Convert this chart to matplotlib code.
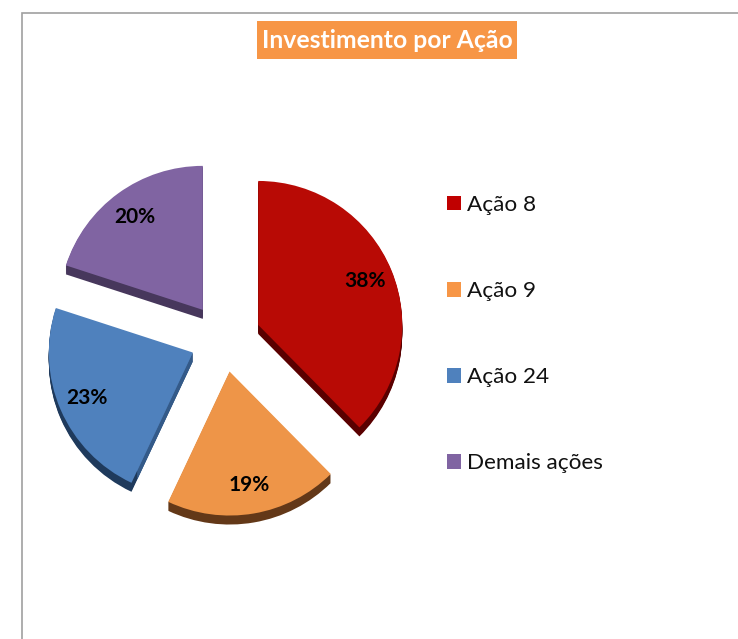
import matplotlib
matplotlib.use("Agg")
import matplotlib.pyplot as plt
from matplotlib.patches import Rectangle

plt.rcParams['font.family'] = ['Lato', 'DejaVu Sans']

labels = ['Ação 8', 'Ação 9', 'Ação 24', 'Demais ações']
values = [37.6, 19.4, 23, 20]
top_colors = ['#B80A05', '#EE9548', '#4F81BD', '#8064A2']
side_colors = ['#5A0000', '#633818', '#1F3A5C', '#47375C']
edge_colors = ['none', 'none', '#3F6A9E', 'none']  # blue slice has a lighter cut face
legend_colors = ['#C00000', '#F79646', '#4F81BD', '#8064A2']

W, H = 738, 639
fig = plt.figure(figsize=(W / 100, H / 100), dpi=100)
ax = fig.add_axes([0, 0, 1, 1])

# everything below is placed in image pixels, y measured from the bottom
cx, cy = 224, H - 339
r = 144
depth = 9
explode = [37, 33, 34, 36]  # pie takes this in data units, so pixels here

# outer frame, only top and left show in the picture
ax.add_patch(Rectangle((22, -20), 800, H - 12.5 + 20, fill=False, edgecolor='#A0A0A0', linewidth=1.2))

# fake 3d: stack of dark pies under the top one
for d in range(depth, 0, -1):
    ax.pie(values, explode=explode, colors=side_colors, radius=r, center=(cx, cy - d),
           startangle=90, counterclock=False)
    ax.pie(values, explode=explode, colors=edge_colors, radius=r - 14, center=(cx, cy - d),
           startangle=90, counterclock=False)

wedges, texts, autotexts = ax.pie(values, explode=explode, colors=top_colors, radius=r, center=(cx, cy),
                                  startangle=90, counterclock=False, autopct='%.0f%%', pctdistance=0.8,
                                  textprops={'fontsize': 15, 'fontweight': 'bold', 'color': 'black'})

ax.text(387, H - 40, 'Investimento por Ação', ha='center', va='center', color='white',
        fontsize=17.8, fontweight='bold')
ax.add_patch(Rectangle((257, H - 59), 260, 38, facecolor='#F79646', edgecolor='none', zorder=0))

handles = [plt.Rectangle((0, 0), 1, 1, facecolor=c, edgecolor='none') for c in legend_colors]
ax.legend(handles, labels, loc='upper left', bbox_to_anchor=(447, H - 195), bbox_transform=ax.transData,
          frameon=False, fontsize=16.2, borderpad=0, borderaxespad=0, handlelength=0.62, handleheight=0.62,
          handletextpad=0.27, labelspacing=2.94, labelcolor='#111111')

ax.set_xlim(0, W)
ax.set_ylim(0, H)
ax.set_aspect('equal')
ax.axis('off')

fig.savefig('out.png', dpi=100, facecolor='white')
